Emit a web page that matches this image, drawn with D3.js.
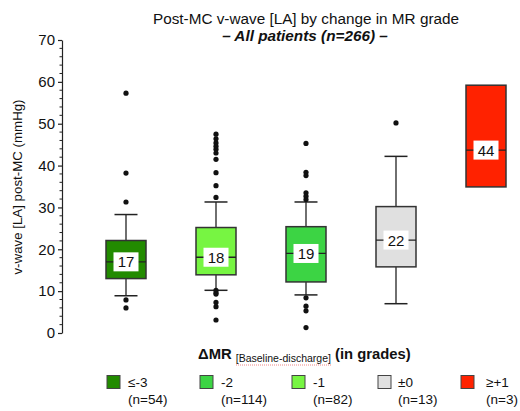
<!DOCTYPE html>
<html>
<head>
<meta charset="utf-8">
<script src="https://cdn.jsdelivr.net/npm/d3@7"></script>
<style>
body { margin: 0; background: #fff; }
text { font-family: "Liberation Sans", Arial, Helvetica, sans-serif; }
</style>
</head>
<body>
<svg id="chart" width="520" height="411"></svg>
<script>
// groups, as ordered on the x axis
var groups = ["≤-3", "-2", "-1", "±0", "≥+1"];
var counts = [54, 114, 82, 13, 3];
// box fills as they appear in the plot (the -2 and -1 boxes are swapped vs legend)
var boxColors = ["#228b00", "#77f542", "#3cd444", "#e0e0e0", "#ff2200"];
var legendColors = ["#228b00", "#3cd444", "#77f542", "#e0e0e0", "#ff2200"];

var q1 = [13, 13.9, 12.2, 15.8, 34.9];
var median = [17, 18.1, 19, 22.2, 43.7];
var q3 = [22.1, 25.2, 25.4, 30.2, 59.2];
var whiskLo = [8.9, 10.2, 9.1, 7, null];
var whiskHi = [28.3, 31.3, 31.3, 42.2, null];
var medLabels = ["17", "18", "19", "22", "44"];

var outliers = [
  [57.3, 38.2, 31.3, 7.9, 6.0],
  [47.5, 46.4, 45.4, 44.6, 43.9, 43.0, 41.5, 38.3, 35.2, 32.4, 10.2, 9.6, 9.3, 7.3, 6.3, 3.1],
  [45.3, 38.4, 37.6, 33.5, 32.7, 31.9, 8.4, 6.4, 5.3, 1.3],
  [50.2],
  []
];

var yTicks = [0, 10, 20, 30, 40, 50, 60, 70];

var svg = d3.select("#chart");

var y = d3.scaleLinear().domain([0, 70]).range([333, 40]);
var x = d3.scalePoint().domain(groups).range([126, 486]);
var boxW = 40, capW = 23;

// y axis
var yAxis = d3.axisLeft(y).tickValues(yTicks).tickSize(4).tickPadding(3).tickSizeOuter(0);
var ga = svg.append("g").attr("transform", "translate(62,0)").call(yAxis);
ga.select(".domain").attr("stroke", "#222").attr("stroke-width", 1.2);
ga.selectAll(".tick line").attr("stroke", "#222").attr("stroke-width", 1.2);
ga.selectAll(".tick text").attr("font-size", 15).attr("fill", "#111")
  .style("font-family", "'Liberation Sans', Arial, sans-serif");
var minor = d3.range(0, 71, 2).filter(function(v) { return v % 10 != 0; });
ga.selectAll(".minor").data(minor).enter().append("line")
  .attr("x1", -2.5).attr("x2", 0)
  .attr("y1", function(d) { return y(d); }).attr("y2", function(d) { return y(d); })
  .attr("stroke", "#222").attr("stroke-width", 1);

// y label
svg.append("text")
  .attr("transform", "translate(22," + 187 + ") rotate(-90)")
  .attr("text-anchor", "middle").attr("font-size", 13.3).attr("fill", "#111")
  .text("v-wave [LA] post-MC (mmHg)");

// titles
svg.append("text").attr("x", 306).attr("y", 24).attr("text-anchor", "middle")
  .attr("font-size", 15.3).attr("fill", "#111")
  .text("Post-MC v-wave [LA] by change in MR grade");
svg.append("text").attr("x", 305).attr("y", 41).attr("text-anchor", "middle")
  .attr("font-size", 15.3).attr("font-weight", "bold").attr("font-style", "italic").attr("fill", "#111")
  .text("– All patients (n=266) –");

// boxes
groups.forEach(function(g, i) {
  var cx = x(g);
  var grp = svg.append("g");
  if (whiskHi[i] != null) {
    grp.append("line").attr("x1", cx).attr("x2", cx).attr("y1", y(q3[i])).attr("y2", y(whiskHi[i]))
      .attr("stroke", "#222").attr("stroke-width", 1.3);
    grp.append("line").attr("x1", cx - capW / 2).attr("x2", cx + capW / 2)
      .attr("y1", y(whiskHi[i])).attr("y2", y(whiskHi[i]))
      .attr("stroke", "#222").attr("stroke-width", 1.5);
  }
  if (whiskLo[i] != null) {
    grp.append("line").attr("x1", cx).attr("x2", cx).attr("y1", y(q1[i])).attr("y2", y(whiskLo[i]))
      .attr("stroke", "#222").attr("stroke-width", 1.3);
    grp.append("line").attr("x1", cx - capW / 2).attr("x2", cx + capW / 2)
      .attr("y1", y(whiskLo[i])).attr("y2", y(whiskLo[i]))
      .attr("stroke", "#222").attr("stroke-width", 1.5);
  }
  grp.append("rect").attr("x", cx - boxW / 2).attr("y", y(q3[i]))
    .attr("width", boxW).attr("height", y(q1[i]) - y(q3[i]))
    .attr("fill", boxColors[i]).attr("stroke", "#333").attr("stroke-width", 1.5);
  grp.append("line").attr("x1", cx - boxW / 2).attr("x2", cx + boxW / 2)
    .attr("y1", y(median[i])).attr("y2", y(median[i]))
    .attr("stroke", "#222").attr("stroke-width", 1.3);
  grp.append("rect").attr("x", cx - 12.5).attr("y", y(median[i]) - 9.5)
    .attr("width", 25).attr("height", 19).attr("fill", "#fff");
  grp.append("text").attr("x", cx).attr("y", y(median[i]) + 5.5).attr("text-anchor", "middle")
    .attr("font-size", 15).attr("fill", "#111").text(medLabels[i]);
  grp.selectAll("circle").data(outliers[i]).enter().append("circle")
    .attr("cx", cx).attr("cy", function(d) { return y(d); }).attr("r", 2.6).attr("fill", "#111");
});

// x axis title
var xt = svg.append("text").attr("x", 198).attr("y", 359).attr("fill", "#111");
xt.append("tspan").attr("font-size", 14.8).attr("font-weight", "bold").text("ΔMR ");
xt.append("tspan").attr("font-size", 10.5).attr("dy", 3).text("[Baseline-discharge]");
xt.append("tspan").attr("font-size", 14.8).attr("font-weight", "bold").attr("dy", -3).text(" (in grades)");
// spell-check squiggle under the subscript, as in the source image
svg.append("line").attr("x1", 236).attr("x2", 332).attr("y1", 365).attr("y2", 365)
  .attr("stroke", "#e88").attr("stroke-width", 1).attr("stroke-dasharray", "1,1");

// legend
var legX = [107, 200, 292, 378, 461];
var legTextX = [128, 221, 313, 398, 486];
groups.forEach(function(g, i) {
  svg.append("rect").attr("x", legX[i]).attr("y", 375.5).attr("width", 13).attr("height", 13)
    .attr("fill", legendColors[i]).attr("stroke", "#444").attr("stroke-width", 1);
  svg.append("text").attr("x", legTextX[i]).attr("y", 387).attr("font-size", 13.5).attr("fill", "#111").text(g);
  svg.append("text").attr("x", legTextX[i]).attr("y", 404).attr("font-size", 13.5).attr("fill", "#111")
    .text("(n=" + counts[i] + ")");
});
</script>
</body>
</html>
